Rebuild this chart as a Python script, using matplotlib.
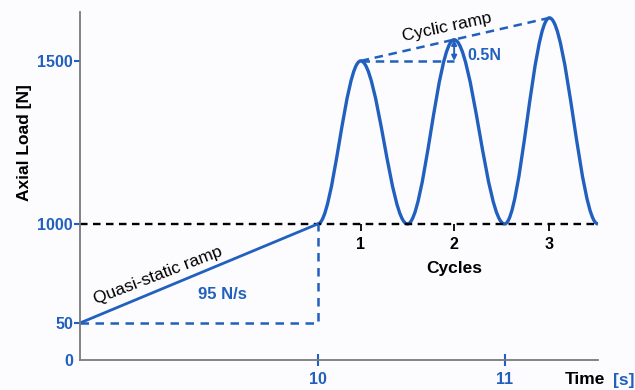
import matplotlib
matplotlib.use("Agg")
import matplotlib.pyplot as plt
import numpy as np
from matplotlib.path import Path
from matplotlib.patches import PathPatch

plt.rcParams['font.family'] = ['Liberation Sans', 'DejaVu Sans']

# quasi-static ramp (time s, load N)
ramp_t = [0, 10]
ramp_load = [50, 1000]

# cyclic part: valleys and peaks
cycle_t = [10.0, 10.23, 10.48, 10.73, 11.0, 11.24, 11.5]
cycle_load = [1000, 1500, 1000, 1565, 1000, 1632, 1000]
cycle_names = ["1", "2", "3"]

y_ticks = [0, 50, 1000, 1500]
x_ticks = [10, 11]

blue = "#2160BE"
grey = "#7a7a7a"

# schematic (non linear) axes
y_load = [0, 50, 1000, 1500, 2500]
y_pos = [0, 37, 136, 299, 625]
x_time = [0, 10, 11, 13]
x_pos = [0, 238, 425, 799]


def fy(v):
    return np.interp(v, y_load, y_pos)


def iy(p):
    return np.interp(p, y_pos, y_load)


def fx(v):
    return np.interp(v, x_time, x_pos)


def ix(p):
    return np.interp(p, x_pos, x_time)


fig = plt.figure(figsize=(6.35, 3.9), dpi=100, facecolor="#fcfcfe")
ax = fig.add_axes([80 / 635, 30 / 390, 518 / 635, 348 / 390])
ax.set_facecolor("#fcfcfe")
ax.set_xscale("function", functions=(fx, ix))
ax.set_yscale("function", functions=(fy, iy))
ax.set_xlim(0, 11.5)
ax.set_ylim(0, 1650)

for s in ["top", "right"]:
    ax.spines[s].set_visible(False)
for s in ["left", "bottom"]:
    ax.spines[s].set_color(grey)
    ax.spines[s].set_linewidth(1.3)

ax.set_yticks(y_ticks)
ax.set_yticklabels([str(v) for v in y_ticks])
ax.set_xticks(x_ticks)
ax.set_xticklabels([str(v) for v in x_ticks])
ax.tick_params(axis="y", colors=blue, length=4, width=1.5, pad=1, labelsize=11.5)
ax.tick_params(axis="x", colors=blue, direction="inout", length=8, width=1.5, pad=5, labelsize=11.5)
ax.yaxis.get_major_ticks()[0].tick1line.set_visible(False)
for lab in ax.get_xticklabels() + ax.get_yticklabels():
    lab.set_fontweight("bold")
    lab.set_color(blue)

# reference lines
ax.plot([0, 11.5], [1000, 1000], color="black", lw=1.7, dashes=(3.2, 2.3), clip_on=False)
ax.plot([ramp_t[0], ramp_t[1], ramp_t[1]], [ramp_load[0], ramp_load[0], ramp_load[1]],
        color=blue, lw=1.8, dashes=(3.4, 2.6), clip_on=False)
ax.plot([cycle_t[1], cycle_t[5]], [cycle_load[1], cycle_load[5]],
        color=blue, lw=1.8, dashes=(3.4, 2.3), clip_on=False)
ax.plot([cycle_t[1], cycle_t[3]], [cycle_load[1], cycle_load[1]],
        color=blue, lw=1.8, dashes=(3.4, 2.3), clip_on=False)

# ramp
ax.plot(ramp_t, ramp_load, color=blue, lw=2, solid_capstyle="round", clip_on=False)

# cycles as smooth humps between valleys and peaks
verts = [(cycle_t[0], cycle_load[0])]
codes = [Path.MOVETO]
for i in range(len(cycle_t) - 1):
    t0, t1 = cycle_t[i], cycle_t[i + 1]
    y0, y1 = cycle_load[i], cycle_load[i + 1]
    d = (t1 - t0) * 0.36
    verts += [(t0 + d, y0), (t1 - d, y1), (t1, y1)]
    codes += [Path.CURVE4] * 3
ax.add_patch(PathPatch(Path(verts, codes), fill=False, ec=blue, lw=2.4, clip_on=False))

# cycle markers
peak_t = cycle_t[1::2]
ax.plot(peak_t, [1000] * len(peak_t), ls="none", marker=3, ms=5, mew=1.3, color="black")
for t, name in zip(peak_t, cycle_names):
    ax.annotate(name, (t, 1000), xytext=(0, -15), textcoords="offset points",
                ha="center", va="center", fontsize=11.5, fontweight="bold")
ax.annotate("Cycles", (peak_t[1], 1000), xytext=(0, -32), textcoords="offset points",
            ha="center", va="center", fontsize=12.5, fontweight="bold")

# 0.5N arrow
ax.annotate("", xy=(cycle_t[3], cycle_load[1]), xytext=(cycle_t[3], cycle_load[3]),
            arrowprops=dict(arrowstyle="<|-|>,head_length=0.3,head_width=0.15", color=blue,
                            lw=1.4, shrinkA=0, shrinkB=0))
ax.text(10.80, 1518, "0.5N", color=blue, fontsize=11.5, fontweight="bold", ha="left", va="center")

# texts
ax.text(3.3, 505, "Quasi-static ramp", rotation=21, fontsize=12.5, ha="center", va="center")
ax.text(6.0, 320, "95 N/s", color=blue, fontsize=12, fontweight="bold", ha="center", va="center")
ax.text(10.69, 1604, "Cyclic ramp", rotation=12, fontsize=12.5, ha="center", va="center")

ax.text(-0.107, 0.626, "Axial Load [N]", transform=ax.transAxes, rotation=90,
        fontsize=12.5, fontweight="bold", ha="center", va="center")
fig.text(605 / 635, 10 / 390, "Time", fontsize=12.5, fontweight="bold", ha="right", va="center")
fig.text(634 / 635, 10 / 390, "[s]", fontsize=12.5, fontweight="bold", color=blue, ha="right", va="center")

fig.savefig("out.png", dpi=100, facecolor=fig.get_facecolor())
